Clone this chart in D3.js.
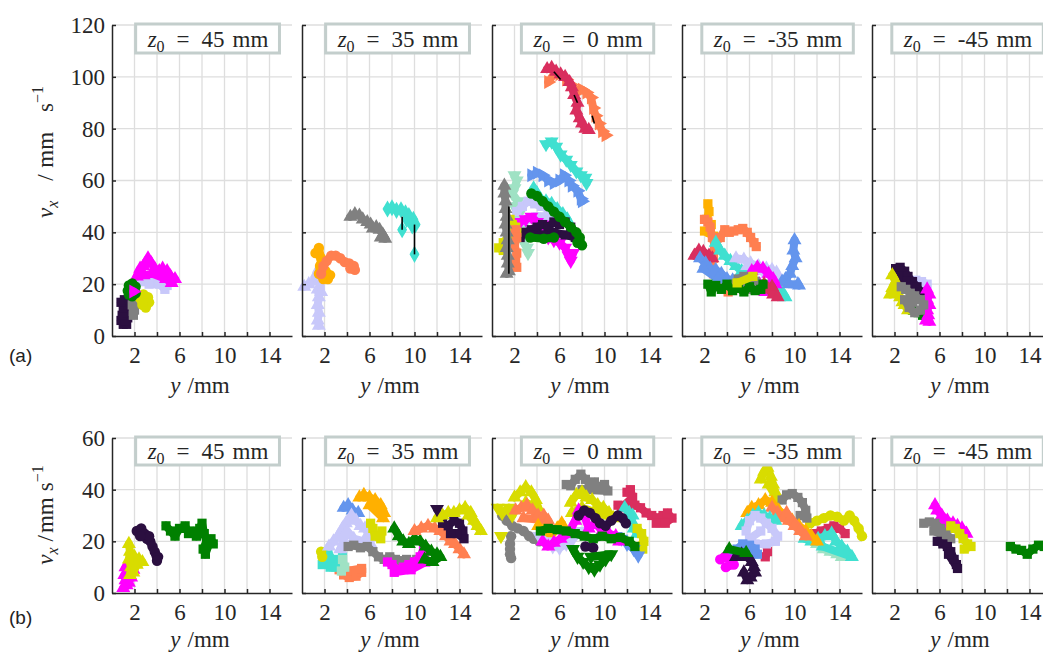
<!DOCTYPE html>
<html lang="en">
<head>
<meta charset="UTF-8">
<title>vx against y, particle tracks</title>
<script src="https://d3js.org/d3.v7.min.js"></script>
<style>
  body { margin: 0; background: #fff; }
  svg text { font-family: "Liberation Serif", "DejaVu Serif", "Noto Serif", serif; fill: #262626; }
  svg text.tag { font-family: "Liberation Sans", "DejaVu Sans", Arial, sans-serif; fill: #222; }
  .grid line { stroke: #dedede; stroke-width: 1.3; }
</style>
</head>
<body>
<svg width="1043" height="659"></svg>
<script>
// panel headings (z0 in mm) and axis ticks
const panelTitles = ["45", "35", "0", "-35", "-45"];
const xTicks = [2, 4, 6, 8, 10, 12, 14];
const xTickLabels = [2, 6, 10, 14];
const yTicksA = [0, 20, 40, 60, 80, 100, 120];
const yTicksB = [0, 20, 40, 60];

// tracks: [particle colour, marker, [[y mm, vx mm/s], ...]]
const a45 = [
  ["purple", "sq", [[1.0,4.5],[1.3,4.5],[0.8,6],[1.4,7],[1.2,6],[0.9,8],[1.3,9],[1.0,11],[1.4,12],[0.8,13],[1.1,14],[1.5,14.5]]],
  ["gray", "sq", [[1.9,8],[2.0,10],[1.8,12],[2.1,13],[1.9,9.5]]],
  ["yellow", "ci", [[2.4,15],[2.8,16],[3.2,15],[3.3,13],[3.0,11],[2.7,12],[2.6,14]]],
  ["lavender", "sq", [[2.0,19],[2.5,21],[3.0,21],[3.5,22],[4.0,21.5],[4.5,21],[4.9,19.5],[4.7,18],[4.2,20],[3.3,20]]],
  ["magenta", "up", [[2.2,23],[2.5,26],[2.8,27],[3.2,30],[3.5,28],[3.8,26],[4.2,25],[4.5,26],[4.9,25],[5.2,23],[5.6,22],[5.3,20.5],[4.8,22],[3.6,24],[2.8,23.5]]],
  ["green", "ci", [[1.4,17.5],[1.5,19.5],[1.8,20.3],[2.1,19],[2.1,16.5],[1.8,15.3],[1.5,16]]],
  ["magenta", "right", [[1.9,17.2]]]
];
const a35 = [
  ["lavender", "up", [[0.2,19],[0.6,20],[1.0,21],[1.3,24],[1.5,26],[1.6,22],[1.7,17],[1.4,18],[1.5,15],[1.4,12],[1.5,9],[1.4,6],[1.5,4]]],
  ["orange", "ci", [[1.2,32],[1.5,34],[1.7,30],[1.6,27],[1.5,24],[1.9,22],[2.3,22],[2.5,23.5],[2.1,25],[1.8,28]]],
  ["coral", "ci", [[1.7,24],[1.9,27],[2.2,29],[2.6,31],[3.0,31],[3.4,30],[3.8,28.5],[4.2,28],[4.6,27],[4.7,25.5],[4.3,26]]],
  ["gray", "up", [[4.3,46],[4.7,47],[5.1,46.5],[5.4,45],[5.8,44],[6.1,43],[6.3,41.5],[6.6,42],[6.9,41],[7.2,39],[7.4,37.5],[7.0,38]]],
  ["turquoise", "di", [[7.6,49],[8.0,49.5],[8.4,48.5],[8.8,48.7],[9.2,47.5],[9.5,46.5],[9.9,45],[10.1,43],[9.8,42.5],[9.3,45]]],
  ["turquoise", "di", [[8.9,41]]],
  ["turquoise", "di", [[10.0,31.5]]]
];
const a0 = [
  ["coral", "right", [[5.0,98],[5.5,101],[6.0,101],[6.6,99],[7.0,97],[7.5,95],[8.0,95],[8.4,94],[8.8,92],[9.0,88],[9.2,85],[9.5,82],[9.8,79],[10.1,77.5]]],
  ["crimson", "up", [[4.9,103],[5.3,103.5],[5.7,102],[6.1,101],[6.5,100],[6.9,98],[7.1,96],[7.3,93],[7.6,90],[7.5,87],[7.8,84],[8.0,82],[8.3,80],[8.6,79.5]]],
  ["turquoise", "down", [[4.8,74],[5.3,75],[5.7,73],[6.1,70],[6.6,68],[7.0,66],[7.5,63.5],[7.9,62],[8.3,61],[8.4,59]]],
  ["cornflower", "right", [[3.5,62],[4.0,63],[4.5,62],[5.0,60],[5.5,59],[6.0,60],[6.4,62],[6.8,60],[7.1,58],[7.6,56],[7.9,53],[8.0,52]]],
  ["mint", "down", [[2.0,62],[2.2,60],[2.0,57],[1.8,55],[2.3,52],[2.0,50],[2.4,47],[1.9,45],[2.7,42],[2.6,38],[3.1,34],[3.2,32]]],
  ["turquoise", "up", [[3.7,57],[4.0,55],[4.3,53],[4.8,52],[5.3,51],[5.8,49],[6.3,47],[6.7,45]]],
  ["lavender", "sq", [[2.2,48],[2.7,50],[3.2,52],[3.8,51],[4.4,50],[5.0,49],[5.5,47],[4.8,46],[4.0,46],[3.0,45],[2.5,44]]],
  ["magenta", "down", [[2.0,42],[2.5,44],[3.0,45],[3.5,46],[4.0,44],[4.5,43],[5.0,38],[5.5,37],[6.0,36],[6.5,34],[6.8,31],[7.0,29],[7.2,32]]],
  ["purple", "sq", [[2.5,38],[3.0,40],[3.5,41],[4.0,42],[4.5,43],[5.0,42],[5.5,44],[6.0,43],[6.5,44],[7.0,42],[7.3,40],[7.4,38],[6.5,39],[5.5,40],[4.5,39],[3.5,39]]],
  ["green", "ci", [[3.5,55],[4.0,54],[4.5,52],[5.0,50],[5.5,48],[6.0,46],[6.5,44],[7.0,42],[7.5,40],[7.8,38],[8.0,35],[7.6,36]]],
  ["green", "ci", [[3.4,38],[4.6,37.5],[5.5,38]]],
  ["yellow", "sq", [[0.6,34],[1.0,33],[1.5,35],[2.0,37],[2.2,40],[1.8,43],[1.6,45],[2.1,42],[1.0,36]]],
  ["coral", "sq", [[2.1,41],[2.2,38],[2.0,35],[2.2,32],[2.1,29],[2.2,26.5]]],
  ["gray", "up", [[1.1,58],[1.1,55],[1.2,52],[1.2,49],[1.3,46],[1.2,43],[1.3,40],[1.4,37],[1.3,34],[1.4,31],[1.4,28],[1.5,25],[1.3,24]]]
];
const aM35 = [
  ["orange", "sq", [[2.3,51],[2.4,48],[2.2,45],[2.6,43],[2.5,40],[2.0,40.5],[2.8,38.5]]],
  ["coral", "sq", [[2.0,45],[2.3,44],[2.5,42],[2.7,38],[2.9,35],[3.4,38],[3.8,41],[4.2,40],[4.6,40.5],[5.0,41],[5.4,41.5],[5.8,40],[6.1,38],[6.4,36],[6.6,34.5]]],
  ["coral", "sq", [[2.9,35],[2.8,30],[2.6,27],[2.8,24],[3.5,22],[4.0,19],[4.1,17]]],
  ["crimson", "up", [[1.1,31],[1.5,33],[1.9,32.5],[2.4,31],[2.7,30]]],
  ["cornflower", "up", [[1.6,30],[2.1,28],[2.5,26],[3.0,25.5],[3.5,24],[4.0,22],[4.5,21.5],[5.0,20.5],[3.2,22],[1.9,26]]],
  ["turquoise", "up", [[3.0,36],[3.4,33],[3.8,31],[4.3,29],[4.8,27],[5.3,25],[5.8,23],[6.3,21],[6.8,20],[7.4,19],[7.9,18],[8.4,17],[8.9,16],[9.2,15],[8.6,19]]],
  ["lavender", "up", [[4.8,30],[5.5,29.5],[6.1,28],[6.8,27],[7.5,26],[8.0,25.5],[8.4,24.5],[8.4,23],[7.6,24],[6.7,25.5],[5.8,27]]],
  ["cornflower", "up", [[10.0,37],[9.9,33],[10.1,30],[9.8,27],[9.6,24],[9.2,22],[8.9,21],[9.5,20],[10.3,20],[10.4,19.5]]],
  ["magenta", "up", [[6.2,25],[6.7,26.5],[7.2,26],[7.7,24],[8.1,22],[8.3,20],[7.9,18],[7.4,17],[6.9,20],[6.4,22]]],
  ["crimson", "up", [[7.3,20],[7.7,18],[8.1,16],[8.5,15],[8.0,19]]],
  ["gray", "sq", [[4.6,20],[5.0,22],[5.5,23],[6.0,22],[6.5,21],[6.8,19],[6.0,18],[5.3,18.5]]],
  ["green", "sq", [[2.3,20],[2.6,17],[3.0,19.5],[3.5,18],[4.0,20],[4.5,17.5],[5.0,18.5],[5.5,17],[6.0,19],[6.5,17.5],[7.0,18],[7.2,20]]],
  ["yellow", "sq", [[4.9,20.5],[6.3,23]]]
];
const aM45 = [
  ["lavender", "sq", [[3.4,21],[3.9,21.5],[4.4,21],[4.9,20],[4.7,18],[4.2,19]]],
  ["purple", "sq", [[2.1,26],[2.5,26.5],[2.9,25],[3.2,23],[3.6,21],[4.0,19],[4.3,17],[3.0,21],[2.3,23]]],
  ["green", "sq", [[3.6,10],[4.1,9],[4.5,8],[4.8,8.5]]],
  ["magenta", "up", [[4.9,18],[5.1,16],[4.9,14],[5.1,12],[4.9,10],[5.0,8],[4.8,6],[5.1,5.5]]],
  ["yellow", "up", [[1.8,23.5],[2.1,21],[1.8,18.5],[1.6,16],[2.1,17],[2.5,15],[2.9,12],[3.2,10],[2.7,13]]],
  ["gray", "sq", [[2.6,19],[3.0,18],[3.4,16.5],[3.8,15.5],[4.3,14],[4.6,12],[4.3,10],[3.8,9],[3.3,11],[2.9,14],[3.6,13]]]
];

const b45 = [
  ["magenta", "up", [[1.0,2],[1.3,3],[1.5,4],[1.7,6],[1.9,9],[1.2,10],[1.4,8],[1.1,7],[1.2,5]]],
  ["yellow", "up", [[1.5,19],[1.6,16],[1.5,13],[1.7,10],[1.6,7],[1.9,8],[2.2,11],[2.7,12],[2.4,13],[2.0,14]]],
  ["purple", "ci", [[2.2,24],[2.6,25],[2.9,23],[3.1,21],[3.4,20],[3.6,18],[3.8,16],[4.1,14],[4.0,12.5],[3.3,22],[2.5,22]]],
  ["green", "sq", [[4.8,26],[5.2,24],[5.6,22],[6.0,25],[6.5,26],[6.8,23],[7.2,24],[7.5,22],[7.8,25],[8.0,27],[8.2,23],[8.4,20],[8.1,17],[8.3,15],[8.8,21],[9.0,19]]]
];
const b35 = [
  ["coral", "sq", [[3.3,9],[3.7,7],[4.2,6],[4.8,6.5],[5.3,8],[5.3,9.5],[4.0,8.5]]],
  ["turquoise", "sq", [[1.9,14],[2.2,12],[2.5,10],[2.8,13],[3.2,12.5],[3.6,14],[3.0,10],[2.3,16],[1.8,11]]],
  ["mint", "sq", [[3.6,13],[3.8,10],[3.5,8.5]]],
  ["yellow", "ci", [[1.7,16],[1.8,14]]],
  ["cornflower", "up", [[3.7,33],[4.1,34],[4.5,32],[5.0,31],[4.3,29]]],
  ["lavender", "up", [[2.4,18],[2.8,20],[3.2,22],[3.6,25],[3.9,27],[4.4,30],[4.8,28],[5.2,26],[5.6,25],[5.9,23],[6.1,19],[5.5,20],[4.6,21],[4.0,24],[3.4,17]]],
  ["orange", "up", [[5.1,37],[5.5,38],[6.0,37],[6.5,36],[7.0,34],[7.3,31],[7.2,29],[6.0,34]]],
  ["yellow", "sq", [[6.1,27],[6.3,25],[6.5,22],[7.0,21],[7.1,24]]],
  ["gray", "sq", [[4.1,18],[4.6,18.5],[5.2,17.5],[5.8,18],[6.3,16],[6.8,14],[7.3,13],[7.8,14],[8.3,13],[8.8,12.5],[9.3,13],[9.8,12],[10.2,13]]],
  ["magenta", "sq", [[7.6,12],[8.0,11],[8.5,9],[9.0,10],[9.5,11],[10.0,12],[10.5,14],[10.8,17],[11.0,12],[9.7,9],[8.2,8]]],
  ["green", "up", [[8.2,25],[8.6,22],[9.0,20],[9.5,19],[10.0,21],[10.5,20],[11.0,18],[11.5,16],[12.0,15],[12.3,14],[11.6,12],[10.9,13]]],
  ["coral", "up", [[10.0,24],[10.6,25],[11.2,26],[11.8,25],[12.3,24],[12.8,22],[13.2,20],[13.6,19],[14.0,17],[14.4,15]]],
  ["purple", "sq", [[12.5,27],[13.0,26],[13.5,28],[14.0,27],[14.3,24],[14.4,21],[13.8,23],[13.2,23]]],
  ["yellow", "up", [[12.0,29],[12.5,30],[13.0,31],[13.5,31],[14.0,32],[14.5,33],[15.0,31],[15.3,28],[15.6,26],[15.9,24],[14.8,30]]],
  ["purple", "down", [[12.0,32.5]]]
];
const b0 = [
  ["gray", "sq", [[6.6,42],[7.0,41.5],[7.4,44],[7.9,46],[8.3,44],[8.7,42],[9.1,43],[9.5,41],[10.0,42],[10.3,39.5],[8.0,40]]],
  ["gray", "ci", [[0.9,30],[1.3,28],[1.8,26],[2.3,25],[2.8,24],[3.3,22],[3.7,21],[4.2,20]]],
  ["gray", "ci", [[1.7,22],[1.6,19],[1.6,17],[1.6,15],[1.7,13.5]]],
  ["yellow", "up", [[2.0,37],[2.5,39],[3.0,41],[3.5,39],[3.9,36],[4.1,33],[3.0,35]]],
  ["yellow", "down", [[0.5,33],[0.9,31],[1.5,33],[1.8,30]]],
  ["yellow", "down", [[0.8,22]]],
  ["coral", "up", [[2.1,32],[2.6,33],[3.1,34],[3.6,32],[4.1,30],[4.6,30],[5.0,28],[2.8,29]]],
  ["orange", "up", [[4.1,26],[4.6,24],[5.2,22],[5.8,25],[6.2,27]]],
  ["lavender", "down", [[4.2,22],[4.8,20],[5.4,18],[6.0,17.5],[6.6,19],[7.2,21],[7.8,24],[6.5,23]]],
  ["crimson", "sq", [[12.0,39],[12.3,40],[12.5,37],[11.5,33],[11.2,34],[12.7,34],[13.2,33],[13.7,31],[14.2,30],[14.7,29],[15.2,30],[15.6,31],[16.0,29],[15.4,27],[14.6,27]]],
  ["turquoise", "up", [[11.8,33],[12.2,31],[12.5,30],[12.4,28],[12.6,25],[12.9,23]]],
  ["yellow", "sq", [[12.9,25],[13.3,23],[13.5,20],[13.1,18],[13.4,17]]],
  ["cornflower", "down", [[11.0,22],[11.5,21],[12.0,19],[12.6,17],[13.0,14.5]]],
  ["yellow", "up", [[7.0,35],[7.5,38],[8.0,39],[8.4,37],[8.9,36],[9.4,34],[9.9,33],[10.4,31],[10.8,29],[8.0,33],[7.1,31]]],
  ["magenta", "up", [[4.5,20],[5.0,18],[5.5,19.5],[6.1,21],[6.8,23],[7.4,28],[7.7,32],[8.2,30],[8.6,25],[9.2,27],[9.8,24],[10.4,23],[11.0,22],[11.3,20]]],
  ["purple", "ci", [[7.7,30],[8.2,32],[8.7,31],[9.2,29],[9.6,27],[10.1,26],[10.6,28],[11.2,30],[11.6,29],[11.9,27]]],
  ["green", "sq", [[4.3,24],[5.0,25],[5.8,24.5],[6.6,24],[7.4,23],[8.2,22],[9.0,21],[9.8,22],[10.6,21],[11.4,21.5],[12.2,20],[12.7,18]]],
  ["purple", "ci", [[8.3,18],[9.0,17.5]]],
  ["green", "down", [[7.2,17],[7.6,14],[8.1,12],[8.6,10],[9.1,9],[9.6,11],[10.1,13],[10.6,15],[8.8,14]]]
];
const bM35 = [
  ["crimson", "sq", [[11.2,22],[11.8,23],[12.4,24],[13.0,25],[13.5,26],[14.0,25],[14.5,23]]],
  ["crimson", "sq", [[7.4,14],[7.6,16]]],
  ["yellow", "ci", [[11.4,27],[12.0,28],[12.6,29],[13.2,30],[13.8,29.5],[14.4,28],[14.9,30],[15.3,28],[15.7,25],[16.0,22]]],
  ["mint", "up", [[12.0,19],[12.6,17],[13.2,16],[13.8,15],[14.2,14]]],
  ["turquoise", "up", [[10.9,21],[11.5,20],[12.1,21],[12.7,22],[13.3,23],[13.7,20],[14.2,18],[14.7,16],[15.1,14],[12.5,18]]],
  ["yellow", "up", [[7.0,44],[7.3,47],[7.6,48.5],[7.9,45],[8.1,42],[8.3,39],[8.5,36],[7.7,42]]],
  ["gray", "sq", [[8.9,36],[9.3,38],[9.8,38.5],[10.3,37],[10.7,35],[11.0,32],[11.1,29],[10.5,30]]],
  ["orange", "up", [[5.8,31],[6.2,33],[6.8,34],[7.4,36],[8.0,35],[8.6,32],[9.2,30],[9.8,28],[10.4,26],[11.0,24],[11.5,22],[12.0,20]]],
  ["coral", "up", [[8.0,33],[8.5,31],[9.0,29],[9.5,28],[10.0,26],[10.5,24],[11.0,22],[9.3,31]]],
  ["turquoise", "up", [[5.3,26],[5.8,28],[6.3,30],[6.8,31],[7.3,30],[7.8,29],[8.3,28]]],
  ["lavender", "sq", [[5.7,24],[6.0,28],[6.5,30],[7.0,29],[7.5,27],[8.0,25],[8.5,22],[8.3,20],[7.5,19],[6.5,19],[6.0,21],[7.0,24]]],
  ["cornflower", "sq", [[4.5,16],[4.9,17],[5.4,19],[6.0,18.5],[6.5,17],[6.7,15],[5.2,15]]],
  ["magenta", "ci", [[3.4,13],[3.8,14],[4.3,13],[4.6,11],[3.9,10]]],
  ["purple", "up", [[4.8,14],[5.3,15],[5.8,14],[6.2,12],[6.4,10],[6.5,8],[6.1,6],[5.8,5],[5.5,8]]],
  ["green", "up", [[4.2,17],[5.7,15.5]]]
];
const bM45 = [
  ["magenta", "up", [[5.6,34],[5.8,32],[6.2,30],[6.7,28],[7.2,27],[7.6,26],[8.0,25],[8.4,23],[6.0,28]]],
  ["gray", "sq", [[4.6,27],[5.1,27.5],[5.6,27],[6.1,25],[6.6,23],[7.0,21],[5.5,24]]],
  ["purple", "sq", [[5.8,20],[6.3,19],[6.7,18],[7.0,16],[7.3,13],[7.5,11],[7.6,9.5],[6.8,15]]],
  ["yellow", "sq", [[7.0,26],[7.4,25],[7.8,23],[8.1,21],[8.5,19],[8.8,18],[8.2,17]]],
  ["green", "sq", [[12.3,18],[12.8,17],[13.3,16.5],[13.8,15],[14.3,17],[14.8,18.5],[15.3,18],[15.8,17]]]
];

// thin black joins between far-apart points of one track
const a35Links = [[[8.9,46],[8.9,41]], [[10.0,43],[10.0,31.5]]];
const a0Links = [[[1.5,50],[1.5,24]], [[5.5,102],[6.1,99]], [[7.3,93],[7.6,90]], [[8.9,85],[9.1,82]]];

const colours = {
  purple: "#2b0f40", gray: "#808080", magenta: "#ff00ff", lavender: "#c8c8fa",
  green: "#008000", yellow: "#d8dc00", orange: "#ffb000", coral: "#ff7f50",
  turquoise: "#40e0d0", cornflower: "#6495ed", crimson: "#d92e5e", mint: "#9fe2c4"
};
const markers = {
  up: [d3.symbolTriangle, 0], down: [d3.symbolTriangle, 180], right: [d3.symbolTriangle, 90],
  sq: [d3.symbolSquare, 0], ci: [d3.symbolCircle, 0], di: [d3.symbolDiamond, 0]
};

const svg = d3.select("svg");
const lefts = [112, 302, 492, 682, 872];
const w = 180;
const rows = [
  { top: 25, h: 311, max: 120, ticks: yTicksA, tracks: [a45, a35, a0, aM35, aM45], links: [[], a35Links, a0Links, [], []], tag: "(a)",
    label: { cy: 152, gap: 20 } },
  { top: 438, h: 155, max: 60, ticks: yTicksB, tracks: [b45, b35, b0, bM35, bM45], links: [[], [], [], [], []], tag: "(b)",
    label: { cy: 515, gap: 6 } }
];

const x = d3.scaleLinear().domain([0, 16]).range([0, w]);
const serif = '"Liberation Serif", "DejaVu Serif", serif';

rows.forEach((row, r) => {
  const y = d3.scaleLinear().domain([0, row.max]).range([row.h, 0]);
  const line = d3.line().x(d => x(d[0])).y(d => y(d[1]));

  row.tracks.forEach((tracks, p) => {
    const g = svg.append("g").attr("transform", `translate(${lefts[p]},${row.top})`);

    // grid
    const grid = g.append("g").attr("class", "grid");
    grid.selectAll(".gx").data(xTicks).enter().append("line")
      .attr("x1", d => x(d)).attr("x2", d => x(d)).attr("y1", 0).attr("y2", row.h);
    grid.selectAll(".gy").data(row.ticks.slice(1)).enter().append("line")
      .attr("x1", 0).attr("x2", w).attr("y1", d => y(d)).attr("y2", d => y(d));

    const clipId = `clip${r}${p}`;
    g.append("clipPath").attr("id", clipId).append("rect")
      .attr("x", -6).attr("y", -6).attr("width", w + 12).attr("height", row.h + 6);
    const plot = g.append("g").attr("clip-path", `url(#${clipId})`);

    tracks.forEach(([c, m, pts]) => {
      const col = colours[c];
      plot.append("path").attr("d", line(pts))
        .attr("fill", "none").attr("stroke", col).attr("stroke-width", 8)
        .attr("stroke-linejoin", "round").attr("stroke-linecap", "round");
      const sym = d3.symbol().type(markers[m][0]).size(85);
      plot.selectAll(null).data(pts).enter().append("path")
        .attr("d", sym)
        .attr("transform", d => `translate(${x(d[0])},${y(d[1])}) rotate(${markers[m][1]})`)
        .attr("fill", col);
    });

    plot.selectAll(".link").data(row.links[p]).enter().append("path")
      .attr("d", d => line(d)).attr("stroke", "#000").attr("stroke-width", 1.6).attr("fill", "none");

    // axes
    const yAxis = d3.axisLeft(y).tickValues(row.ticks).tickSizeInner(-4).tickSizeOuter(0).tickPadding(7);
    if (p > 0) yAxis.tickFormat("");
    const ya = g.append("g").attr("color", "#262626").call(yAxis);
    const xAxis = d3.axisBottom(x).tickValues(xTicks).tickSizeInner(-4).tickSizeOuter(0).tickPadding(11)
      .tickFormat(d => xTickLabels.includes(d) ? d : "");
    const xa = g.append("g").attr("color", "#262626").attr("transform", `translate(0,${row.h})`).call(xAxis);
    [ya, xa].forEach(a => {
      a.attr("font-family", serif).attr("font-size", 23);
      a.selectAll("path, line").attr("stroke-width", 1.5);
    });

    // heading box
    const head = g.append("g");
    const rect = head.append("rect").attr("fill", "#fff").attr("stroke", "#c3cecc").attr("stroke-width", 3);
    const t = head.append("text").attr("x", 96).attr("y", r === 0 ? 22 : 21)
      .attr("text-anchor", "middle").attr("font-size", 23);
    t.append("tspan").attr("font-style", "italic").text("z");
    t.append("tspan").attr("dy", 5).attr("font-size", 16).text("0");
    t.append("tspan").attr("dy", -5).attr("dx", 12).text("=");
    t.append("tspan").attr("dx", 12).text(panelTitles[p]);
    t.append("tspan").attr("dx", 8).text("mm");
    const bb = t.node().getBBox();
    rect.attr("x", bb.x - 11).attr("width", bb.width + 22)
      .attr("y", -1).attr("height", r === 0 ? 29 : 28);

    // x label
    const xl = g.append("text").attr("x", w / 2 - 2).attr("y", row.h + (r === 0 ? 57 : 54))
      .attr("text-anchor", "middle").attr("font-size", 23);
    xl.append("tspan").attr("font-style", "italic").text("y");
    xl.append("tspan").attr("dx", 7).text("/mm");
  });

  // y label and row tag
  const yl = svg.append("text")
    .attr("transform", `translate(53,${row.label.cy}) rotate(-90)`)
    .attr("text-anchor", "middle").attr("font-size", 23);
  yl.append("tspan").attr("font-style", "italic").text("v");
  yl.append("tspan").attr("font-style", "italic").attr("dy", 5).attr("font-size", 16).text("x");
  yl.append("tspan").attr("dy", -5).attr("dx", row.label.gap).text("/");
  yl.append("tspan").attr("dx", row.label.gap / 3).text("mm");
  yl.append("tspan").attr("dx", row.label.gap).text("s");
  yl.append("tspan").attr("dy", -10).attr("font-size", 16).text("\u22121");

  svg.append("text").attr("class", "tag").attr("x", 9).attr("y", row.top + row.h + (r === 0 ? 26 : 31))
    .attr("font-size", 19).text(row.tag);
});
</script>
</body>
</html>
